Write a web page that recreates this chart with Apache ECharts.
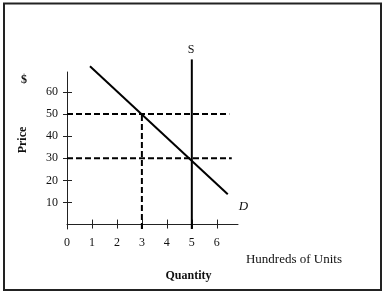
<!DOCTYPE html>
<html>
<head>
<meta charset="utf-8">
<script src="https://cdn.jsdelivr.net/npm/echarts@6/dist/echarts.min.js"></script>
<style>
html,body{margin:0;padding:0;background:#fff;}
#c{width:384px;height:295px;}
</style>
</head>
<body>
<div id="c"></div>
<script>
// Data
var xTickValues = [1, 2, 3, 4, 5, 6];
var xLabelValues = [0, 1, 2, 3, 4, 5, 6];
var yTickValues = [10, 20, 30, 40, 50, 60];
var demandPts = [[0.92, 71.6], [6.44, 13.7]];
var supplyPts = [[5, -2], [5, 74.7]];
var price50Pts = [[0, 50], [6.5, 50]];
var price30Pts = [[0, 30], [6.6, 30]];
var qty3Pts = [[3, -2], [3, 50]];

var FONT = 'Liberation Serif';
var chart = echarts.init(document.getElementById('c'));

function solid(data, extra) {
  return Object.assign({
    type: 'line', data: data, symbol: 'none', clip: false, silent: true,
    lineStyle: { color: '#000', width: 2 }, animation: false
  }, extra || {});
}
function dashed(data) {
  return {
    type: 'line', data: data, symbol: 'none', clip: false, silent: true,
    lineStyle: { color: '#000', width: 2, type: [6, 3] }, animation: false
  };
}

var xBase = { type: 'value', min: 0, max: 6.85, splitLine: { show: false } };
var yBase = { type: 'value', min: -2, max: 69, splitLine: { show: false } };

chart.setOption({
  animation: false,
  grid: { left: 67, top: 72, right: 146, bottom: 66 },
  xAxis: [
    Object.assign({}, xBase, {
      axisLine: { show: true, lineStyle: { color: '#222', width: 1 } },
      axisTick: { show: true, length: 4, customValues: xTickValues, lineStyle: { color: '#222' } },
      axisLabel: { show: true, customValues: xLabelValues, margin: 8, color: '#111', fontFamily: FONT, fontSize: 12 }
    }),
    Object.assign({}, xBase, {
      position: 'bottom',
      axisLine: { show: false },
      axisTick: { show: true, inside: true, length: 5, customValues: xTickValues, lineStyle: { color: '#222' } },
      axisLabel: { show: false }
    })
  ],
  yAxis: [
    Object.assign({}, yBase, {
      axisLine: { show: true, lineStyle: { color: '#222', width: 1 } },
      axisTick: { show: true, length: 4, customValues: yTickValues, lineStyle: { color: '#222' } },
      axisLabel: { show: true, customValues: yTickValues, margin: 9, color: '#111', fontFamily: FONT, fontSize: 12 }
    }),
    Object.assign({}, yBase, {
      position: 'left',
      axisLine: { show: false },
      axisTick: { show: true, inside: true, length: 5, customValues: yTickValues, lineStyle: { color: '#222' } },
      axisLabel: { show: false }
    })
  ],
  series: [
    dashed(price50Pts),
    dashed(price30Pts),
    dashed(qty3Pts),
    solid(demandPts, {
      endLabel: { show: true, formatter: 'D', fontFamily: FONT, fontStyle: 'italic', fontSize: 13, color: '#111', offset: [3, 12] }
    }),
    solid(supplyPts, {
      endLabel: { show: true, formatter: 'S', fontFamily: FONT, fontSize: 12, color: '#111', offset: [-12, -10] }
    })
  ],
  graphic: [
    { type: 'rect', shape: { x: 4, y: 3.5, width: 377, height: 286.5 }, style: { fill: 'none', stroke: '#222', lineWidth: 2 } },
    { type: 'text', x: 24, y: 80, style: { text: '$', font: 'bold 12px ' + FONT, fill: '#111', align: 'center', verticalAlign: 'middle' } },
    { type: 'text', x: 22.5, y: 140, rotation: Math.PI / 2, style: { text: 'Price', font: 'bold 12px ' + FONT, fill: '#111', align: 'center', verticalAlign: 'middle' } },
    { type: 'text', x: 294, y: 260, style: { text: 'Hundreds of Units', font: '13px ' + FONT, fill: '#111', align: 'center', verticalAlign: 'middle' } },
    { type: 'text', x: 188.5, y: 276, style: { text: 'Quantity', font: 'bold 12px ' + FONT, fill: '#111', align: 'center', verticalAlign: 'middle' } }
  ]
});
</script>
</body>
</html>
